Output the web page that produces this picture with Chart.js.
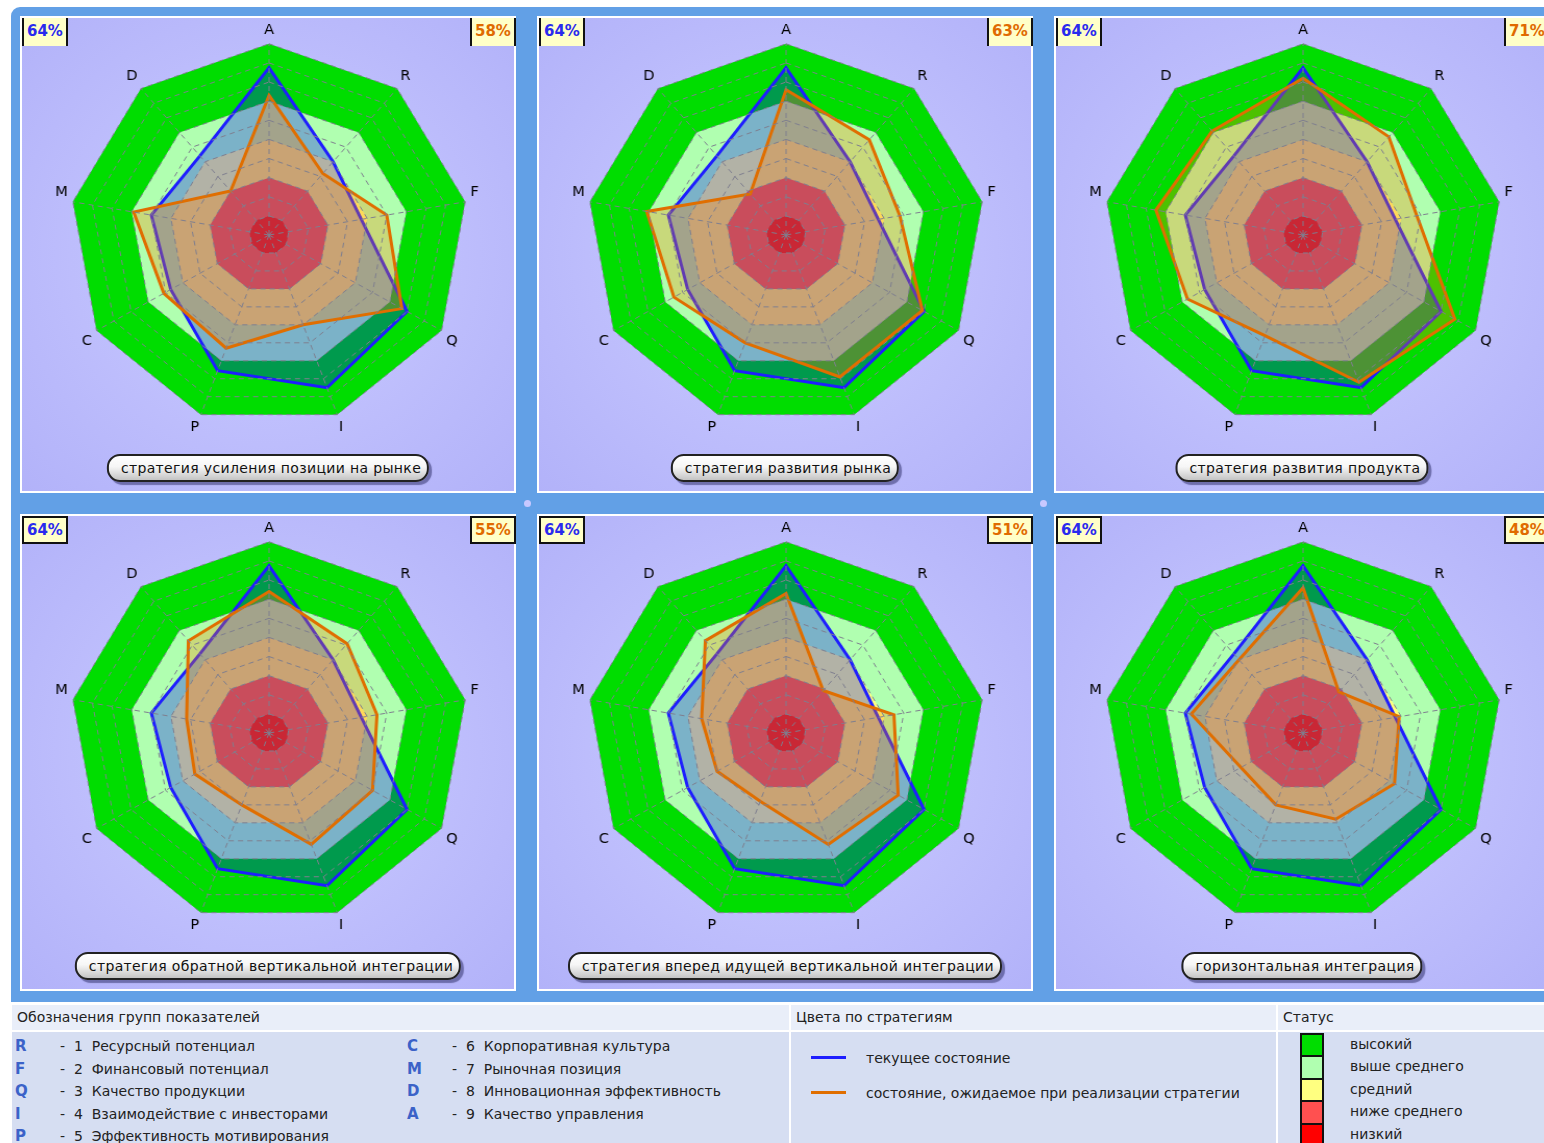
<!DOCTYPE html>
<html><head><meta charset="utf-8">
<script src="https://cdn.jsdelivr.net/npm/chart.js@4.4.1/dist/chart.umd.min.js"></script>
<style>
html,body{margin:0;padding:0;}
body{width:1544px;height:1143px;overflow:hidden;background:#fff;font-family:"DejaVu Sans",sans-serif;position:relative;}
#frame{position:absolute;left:11px;top:7px;width:1545px;height:995px;background:#62a0e6;border-top-left-radius:9px;}
.panel{position:absolute;box-sizing:border-box;width:496px;height:477px;border:2px solid #fff;
 background:radial-gradient(ellipse at 50% 50%,#cfcfff 0%,#c0c0fd 45%,#b2b2f9 100%);}
.panel canvas{position:absolute;left:32px;top:-2px;transform-origin:214px 219px;transform:scaleX(1.042);}
.pct{position:absolute;top:0;box-sizing:border-box;width:46px;height:28px;background:#ffffc8;
 font-weight:bold;font-size:15px;line-height:26px;padding-left:3px;z-index:3;}
.top .pct{border-left:2px solid #111;border-right:2px solid #111;}
.bot .pct{border:2px solid #111;top:0;line-height:24px;}
.pct.l{left:0;color:#2a2aee;}
.pct.r{right:-2px;color:#e06a00;}
.pill{position:absolute;top:436px;height:28px;box-sizing:border-box;border:2px solid #222;border-radius:13px;
 background:linear-gradient(to bottom,#ffffff 0%,#f6f6f6 45%,#c4c4c4 100%);
 box-shadow:3px 3px 1px rgba(70,70,130,0.65);font-size:14px;line-height:24px;padding:0 6px 0 12px;letter-spacing:0.35px;
 color:#111;white-space:nowrap;transform:translateX(-50%);left:246px;z-index:3;}
.dot{position:absolute;width:7px;height:7px;border-radius:50%;background:#c8c8ff;}
#legend{position:absolute;left:11px;top:1003px;width:1533px;height:140px;background:#fff;}
.sec{position:absolute;top:2px;height:140px;}
.sec .hd{position:absolute;left:0;top:0;right:0;height:25px;background:#e9eef9;font-size:14px;line-height:25px;padding-left:5px;color:#222;}
.sec .bd{position:absolute;left:0;top:27px;right:0;bottom:0;background:#d6def2;}
.row{position:absolute;font-size:14px;color:#222;white-space:nowrap;line-height:18px;}
.code{position:absolute;font-weight:bold;color:#3b62c8;font-size:15px;line-height:18px;}
.sw{position:absolute;left:22px;width:24px;box-sizing:border-box;border:2px solid #111;border-bottom:none;}
</style></head>
<body>
<div id="frame"></div>
<div id="panels"></div>
<div id="legend"></div>
<script>
// ---- data ----
const axisLabels = ['A','R','F','Q','I','P','C','M','D'];
const currentState = [0.875, 0.50, 0.47, 0.80, 0.85, 0.755, 0.57, 0.60, 0.54];
const expected1 = [0.73, 0.42, 0.60, 0.77, 0.50, 0.63, 0.61, 0.69, 0.30];
const expected2 = [0.76, 0.65, 0.58, 0.79, 0.79, 0.60, 0.65, 0.71, 0.28];
const expected3 = [0.82, 0.67, 0.58, 0.88, 0.82, 0.56, 0.67, 0.75, 0.71];
const expected4 = [0.74, 0.61, 0.55, 0.60, 0.62, 0.40, 0.43, 0.42, 0.63];
const expected5 = [0.73, 0.29, 0.55, 0.65, 0.62, 0.38, 0.40, 0.43, 0.63];
const expected6 = [0.76, 0.28, 0.49, 0.53, 0.48, 0.40, 0.36, 0.57, 0.50];
const strategyNames = [
  'стратегия усиления позиции на рынке',
  'стратегия развития рынка',
  'стратегия развития продукта',
  'стратегия обратной вертикальной интеграции',
  'стратегия вперед идущей вертикальной интеграции',
  'горизонтальная интеграция'
];
const currentPct = ['64%','64%','64%','64%','64%','64%'];
const expectedPct = ['58%','63%','71%','55%','51%','48%'];
const bandLevels = [0.1, 0.3, 0.5, 0.7, 1.0];
const bandColors = ['#ff0000', '#ff5050', '#ffff80', '#b0ffb0', '#00dd00'];
const statusNames = ['высокий','выше среднего','средний','ниже среднего','низкий'];
const groupCodes = ['R','F','Q','I','P','C','M','D','A'];
const groupNames = ['Ресурсный потенциал','Финансовый потенциал','Качество продукции','Взаимодействие с инвесторами',
  'Эффективность мотивирования','Корпоративная культура','Рыночная позиция','Инновационная эффективность','Качество управления'];
const seriesNames = ['текущее состояние','состояние, ожидаемое при реализации стратегии'];

const expectedAll = [expected1, expected2, expected3, expected4, expected5, expected6];
const panelLeft = [20, 537, 1054];
const panelTop = [16, 514];

// ---- panels ----
const host = document.getElementById('panels');
expectedAll.forEach((exp, k) => {
  const row = Math.floor(k / 3), col = k % 3;
  const p = document.createElement('div');
  p.className = 'panel ' + (row === 0 ? 'top' : 'bot');
  p.style.left = panelLeft[col] + 'px';
  p.style.top = panelTop[row] + 'px';
  const cv = document.createElement('canvas');
  cv.width = 426; cv.height = 426;
  cv.style.width = '426px'; cv.style.height = '426px';
  p.appendChild(cv);
  const l = document.createElement('div'); l.className = 'pct l'; l.textContent = currentPct[k]; p.appendChild(l);
  const r = document.createElement('div'); r.className = 'pct r'; r.textContent = expectedPct[k]; p.appendChild(r);
  const pill = document.createElement('div'); pill.className = 'pill'; pill.textContent = strategyNames[k]; p.appendChild(pill);
  host.appendChild(p);

  const datasets = [
    { data: exp, borderColor: '#e06e00', backgroundColor: 'rgba(255,128,0,0.3)', borderWidth: 3, fill: true },
    { data: currentState, borderColor: '#1e1eff', backgroundColor: 'rgba(0,0,255,0.3)', borderWidth: 3, fill: true }
  ];
  bandLevels.forEach((lv, i) => {
    datasets.push({ data: axisLabels.map(() => lv), borderWidth: 0, borderColor: 'rgba(0,0,0,0)',
      backgroundColor: bandColors[i], fill: true });
  });
  new Chart(cv, {
    type: 'radar',
    data: { labels: axisLabels, datasets },
    options: {
      responsive: false, animation: false,
      plugins: { legend: { display: false }, tooltip: { enabled: false } },
      layout: { padding: 0 },
      elements: { line: { tension: 0, borderJoinStyle: 'miter' }, point: { radius: 0, hoverRadius: 0 } },
      scales: { r: {
        min: 0, max: 1, beginAtZero: true,
        ticks: { display: false, stepSize: 0.1 },
        grid: { color: '#7f7f8f', lineWidth: 1, z: 1 },
        border: { dash: [5, 4] },
        angleLines: { color: '#7f7f8f', lineWidth: 1, borderDash: [5, 4] },
        pointLabels: { color: '#000', font: { family: 'DejaVu Sans', size: 14 }, padding: 5 }
      } }
    }
  });
});
// junction dots
[[524, 500], [1040, 500]].forEach(([x, y]) => {
  const d = document.createElement('div'); d.className = 'dot'; d.style.left = x + 'px'; d.style.top = y + 'px';
  document.body.appendChild(d);
});

// ---- legend ----
const lg = document.getElementById('legend');
function sec(left, width, title) {
  const s = document.createElement('div'); s.className = 'sec';
  s.style.left = left + 'px'; s.style.width = width + 'px';
  s.innerHTML = '<div class="hd">' + title + '</div><div class="bd"></div>';
  lg.appendChild(s); return s.querySelector('.bd');
}
const b1 = sec(1, 777, 'Обозначения групп показателей');
const b2 = sec(780, 485, 'Цвета по стратегиям');
const b3 = sec(1267, 280, 'Статус');
groupCodes.forEach((c, i) => {
  const colIdx = i < 5 ? 0 : 1, rowIdx = i < 5 ? i : i - 5;
  const x0 = colIdx === 0 ? 3 : 395;
  const y = 5 + rowIdx * 22.5;
  const cd = document.createElement('div'); cd.className = 'code'; cd.textContent = c;
  cd.style.left = x0 + 'px'; cd.style.top = y + 'px'; b1.appendChild(cd);
  const t = document.createElement('div'); t.className = 'row';
  t.style.left = (x0 + 45) + 'px'; t.style.top = y + 'px';
  t.innerHTML = '-&nbsp;&nbsp;' + (i + 1) + '&nbsp;&nbsp;' + groupNames[i];
  b1.appendChild(t);
});
['#1e1eff', '#e06e00'].forEach((c, i) => {
  const y = 17 + i * 35;
  const ln = document.createElement('div');
  ln.style.cssText = 'position:absolute;left:20px;width:35px;height:3px;top:' + (y + 7) + 'px;background:' + c;
  b2.appendChild(ln);
  const t = document.createElement('div'); t.className = 'row'; t.textContent = seriesNames[i];
  t.style.left = '75px'; t.style.top = y + 'px'; b2.appendChild(t);
});
const swColors = bandColors.slice().reverse();
statusNames.forEach((n, i) => {
  const sw = document.createElement('div'); sw.className = 'sw';
  sw.style.top = (1 + i * 22.4) + 'px'; sw.style.height = '23px'; sw.style.background = swColors[i];
  b3.appendChild(sw);
  const t = document.createElement('div'); t.className = 'row'; t.textContent = n;
  t.style.left = '72px'; t.style.top = (3 + i * 22.4) + 'px'; b3.appendChild(t);
});
</script>
</body></html>
